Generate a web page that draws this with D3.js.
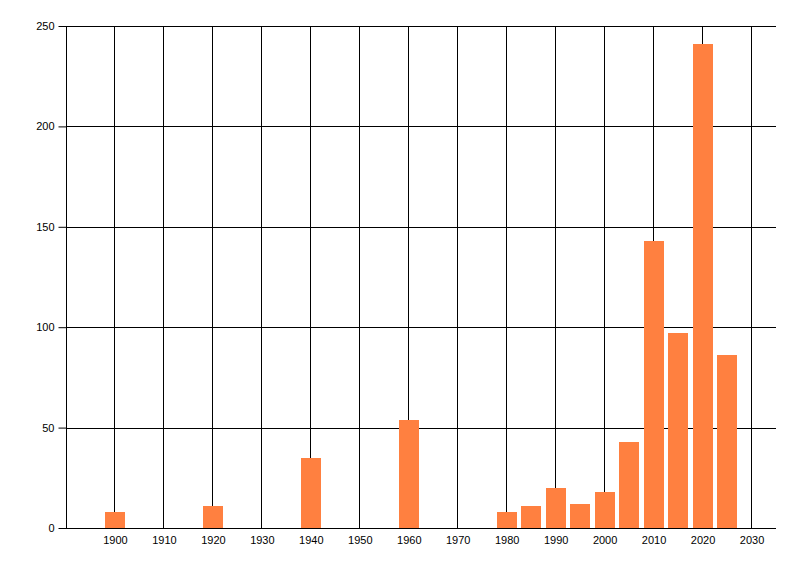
<!DOCTYPE html>
<html>
<head>
<meta charset="utf-8">
<script src="https://cdn.jsdelivr.net/npm/d3@7"></script>
<style>
  body { margin: 0; background: #fff; }
  text { font-family: "Liberation Sans", Arial, sans-serif; font-size: 11px; fill: #000; }
</style>
</head>
<body>
<div id="viz"></div>
<script>
// data
var years = [1900, 1920, 1940, 1960, 1980, 1985, 1990, 1995, 2000, 2005, 2010, 2015, 2020, 2025];
var counts = [8, 11, 35, 54, 8, 11, 20, 12, 18, 43, 143, 97, 241, 86];
var xTicks = [1900, 1910, 1920, 1930, 1940, 1950, 1960, 1970, 1980, 1990, 2000, 2010, 2020, 2030];
var yTicks = [0, 50, 100, 150, 200, 250];

var margin = { top: 26, right: 24, bottom: 48, left: 66 },
  width = 800 - margin.left - margin.right,
  height = 576 - margin.top - margin.bottom;

var x = d3.scaleLinear().domain([1890, 2035]).range([0, width]);
var y = d3.scaleLinear().domain([0, 250]).range([height, 0]);

var svg = d3
  .select("#viz")
  .append("svg")
  .attr("width", 800)
  .attr("height", 576)
  .append("g")
  .attr("transform", "translate(" + margin.left + "," + margin.top + ")");

// vertical grid lines
svg.append("g")
  .selectAll("line")
  .data(xTicks)
  .enter()
  .append("line")
  .attr("x1", function (d) { return Math.floor(x(d)) + 0.5; })
  .attr("x2", function (d) { return Math.floor(x(d)) + 0.5; })
  .attr("y1", 0)
  .attr("y2", height)
  .attr("stroke", "#000");

// horizontal grid lines
svg.append("g")
  .selectAll("line")
  .data(yTicks)
  .enter()
  .append("line")
  .attr("x1", 0)
  .attr("x2", width)
  .attr("y1", function (d) { return Math.round(y(d)) + 0.5; })
  .attr("y2", function (d) { return Math.round(y(d)) + 0.5; })
  .attr("stroke", "#000");

// bars, 4 years wide centred on the year
svg.append("g")
  .selectAll("rect")
  .data(years)
  .enter()
  .append("rect")
  .attr("x", function (d) { return Math.round(x(d - 2)); })
  .attr("width", function (d) { return Math.round(x(d + 2) - x(d - 2)); })
  .attr("y", function (d, i) { return Math.round(y(counts[i])); })
  .attr("height", function (d, i) { return Math.round(y(0)) - Math.round(y(counts[i])); })
  .attr("fill", "#ff8040");

// y axis
var yAxis = svg.append("g")
  .attr("transform", "translate(0.5,0)")
  .call(d3.axisLeft(y).tickValues(yTicks).tickSize(8).tickPadding(4).tickFormat(d3.format("d")));
yAxis.select(".domain").remove();
yAxis.selectAll(".tick line").attr("transform", "translate(0,0)");
yAxis.selectAll("text").attr("font-size", null).attr("font-family", null);

// x axis labels
var xAxis = svg.append("g")
  .attr("transform", "translate(0," + height + ")")
  .call(d3.axisBottom(x).tickValues(xTicks).tickSize(0).tickPadding(8).tickFormat(d3.format("d")));
xAxis.select(".domain").remove();
xAxis.selectAll("text").attr("font-size", null).attr("font-family", null);

// left axis line
svg.append("line")
  .attr("x1", 0.5).attr("x2", 0.5)
  .attr("y1", 0).attr("y2", height)
  .attr("stroke", "#000");
</script>
</body>
</html>
